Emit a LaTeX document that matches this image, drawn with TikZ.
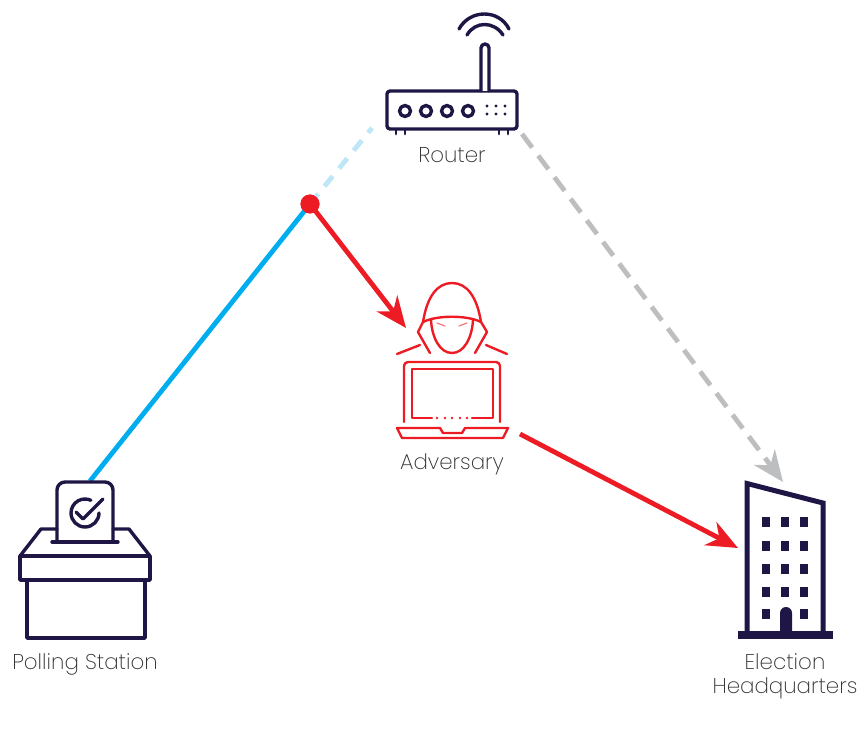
\documentclass[tikz,border=0pt]{standalone}
\usepackage{fontspec}
\setmainfont{Poppins ExtraLight}
\usetikzlibrary{arrows.meta}
\definecolor{navy}{HTML}{1F1646}
\definecolor{adv}{HTML}{ED1C24}
\definecolor{wire}{HTML}{00AEEF}
\definecolor{wirel}{HTML}{BDE6F7}
\definecolor{grayl}{HTML}{BCBEC0}
\definecolor{lab}{HTML}{303030}
\tikzset{
  icon/.style={draw=navy,line width=3.4pt,line join=round,line cap=round},
  thinicon/.style={draw=adv,line width=2.4pt,line join=round,line cap=round},
  lbl/.style={text=lab,font=\fontsize{21.4}{24}\selectfont,inner sep=0pt,align=center},
  conn/.style={line width=4.8pt},
  tip/.style={-{Stealth[length=31pt,width=26pt,inset=10pt]}},
  win/.style={fill=navy,draw=none},
}
\begin{document}
\begin{tikzpicture}[x=1pt,y=-1pt]
\useasboundingbox (0,0) rectangle (861,751);
% connector ends
\coordinate (ballotTop) at (90,481);
\coordinate (routerL) at (372,128);
\coordinate (routerR) at (522,134);
\coordinate (advIn) at (406,328);
\coordinate (advOut) at (520,434);
\coordinate (hqL) at (738,548);
\coordinate (hqTop) at (783,482);
% connectors
\node[circle,fill=adv,minimum size=19pt,inner sep=0pt] (tap) at (310,204) {};
\draw[conn,draw=wire] (ballotTop) -- (tap.center);
\draw[conn,draw=wirel,dash pattern=on 13pt off 10pt] (tap.center) -- (routerL);
\draw[conn,draw=grayl,dash pattern=on 17pt off 10pt,tip] (routerR) -- (hqTop);
\draw[conn,draw=adv,tip] (tap.center) -- (advIn);
\draw[conn,draw=adv,tip] (advOut) -- (hqL);
\node[circle,fill=adv,minimum size=19pt,inner sep=0pt] at (tap.center) {};
% router
\draw[icon,fill=white,rounded corners=3pt] (387,91) rectangle (517,129);
\draw[icon,fill=white] (481,91) -- (481,48) arc[start angle=180,end angle=360,radius=4] -- (489,91);
\foreach \x in {405,426,447,468} \draw[icon] (\x,111) circle[radius=5.5];
\foreach \x in {487,496,505} \foreach \y in {106,114} \fill[navy] (\x,\y) circle[radius=1.7];
\draw[icon,line width=2.8pt] (396,130) -- (396,134) (405,130) -- (405,134) (499,130) -- (499,134) (508,130) -- (508,134);
\draw[icon] (459,29) .. controls (470,9) and (499,9) .. (509,29);
\draw[icon] (467,35) .. controls (475,21) and (494,21) .. (503,35);
\node[lbl] (router) at (452,155) {Router};
% adversary
\begin{scope}[thinicon]
\draw (423,322) .. controls (427,297) and (437,283) .. (452,283) .. controls (467,283) and (477,297) .. (481,322);
\draw (423,322) .. controls (437,315) and (467,315) .. (481,322);
\draw (423,322) -- (418,332) -- (430,353);
\draw (481,322) -- (487,332) -- (475,353);
\draw (431,320) .. controls (432,338) and (440,353) .. (452,353) .. controls (464,353) and (472,338) .. (473,320);
\draw (397,354) -- (420,345) (507,354) -- (486,345);
\draw[line width=1.2pt,draw=adv!60] (437,323) -- (445,326) (467,323) -- (459,326);
\draw[rounded corners=4pt] (404,422) -- (404,362) -- (500,362) -- (500,422);
\draw (432,418) -- (412,418) -- (412,369) -- (493,369) -- (493,418) -- (472,418);
\foreach \x in {437,445,452,460,467} \fill[adv] (\x,418) circle[radius=1.3];
\draw (397,428) -- (440,428) -- (443,433) -- (462,433) -- (465,428) -- (508,428) -- (503,438) -- (402,438) -- cycle;
\end{scope}
\node[lbl] (adversary) at (452,464) {Adversary};
% ballot box
\begin{scope}[icon]
\draw[rounded corners=8pt] (57,542) -- (57,482) -- (113,482) -- (113,542);
\draw (52,542) -- (118,542);
\draw (57,529) -- (41,529) -- (20,556) -- (150,556) -- (129,529) -- (113,529);
\draw (20,556) rectangle (150,580);
\draw (27,580) -- (27,638) -- (145,638) -- (145,580);
\draw (99,513) arc[start angle=0,end angle=295,radius=14];
\draw (76,512) -- (83,519) -- (103,499);
\end{scope}
\node[lbl] (polling) at (85,664) {Polling Station};
% headquarters
\draw[icon,line width=5pt,line cap=butt,line join=miter] (747,632) -- (747,483.5) -- (823,503) -- (823,632);
\fill[navy] (738,631) rectangle (833,639);
\foreach \y in {522,546,569,592} \foreach \x in {766,785,804}
  \fill[win] (\x-4,\y-5) rectangle (\x+4,\y+5);
\foreach \x in {766,804} \fill[win] (\x-4,609) rectangle (\x+4,619);
\fill[navy] (780,632) -- (780,613) arc[start angle=180,end angle=360,radius=6] -- (792,632) -- cycle;
\node[lbl] (hq) at (785,676) {Election\\Headquarters};
\end{tikzpicture}
\end{document}
